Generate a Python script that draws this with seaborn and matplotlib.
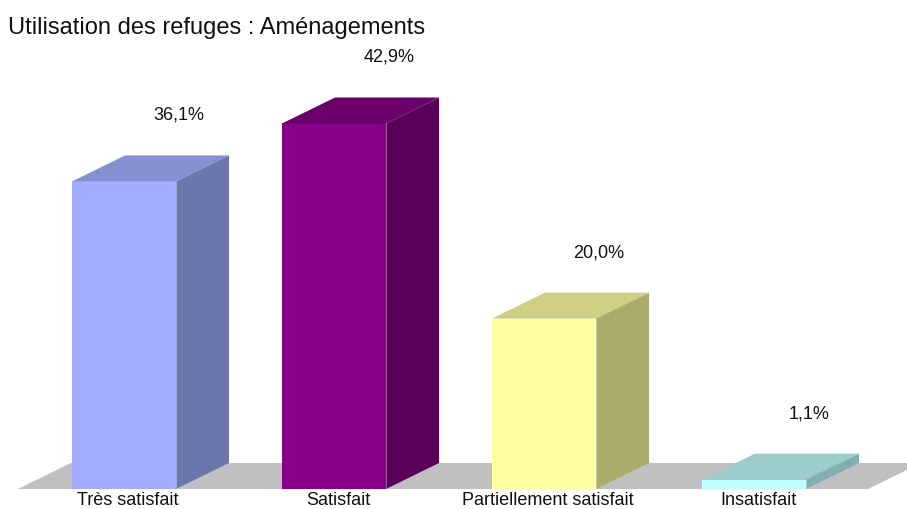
import matplotlib
matplotlib.use("Agg")
import matplotlib.pyplot as plt
from matplotlib.patches import Polygon
import seaborn as sns

# Survey results
categories = ["Très satisfait", "Satisfait", "Partiellement satisfait", "Insatisfait"]
values = [36.1, 42.9, 20.0, 1.1]
value_labels = ["36,1%", "42,9%", "20,0%", "1,1%"]
title = "Utilisation des refuges : Aménagements"

# Face colours for the pseudo-3D bars
front_colors = ["#A2ADFF", "#880088", "#FFFFA0", "#C0FFFF"]
top_colors = ["#8490D2", "#6B006B", "#CFCF84", "#9CCCCC"]
side_colors = ["#6B76AC", "#590059", "#ABAB6C", "#82B0B0"]
floor_color = "#C0C0C0"

sns.set_theme(style="white")
plt.rcParams["font.family"] = ["Liberation Sans", "DejaVu Sans"]

W, H, DPI = 907, 509, 100
fig = plt.figure(figsize=(W / DPI, H / DPI), dpi=DPI)
ax = fig.add_axes([0, 0, 1, 1])

# Pixel geometry of the drawing area
px_per_cat = 210.0
px_per_pct = 8.52
x0_px = 124.0          # centre of the first bar
base_px = 489.0        # floor front edge
bar_w = 104.0 / px_per_cat
DX = 53.0 / px_per_cat  # depth offset (horizontal), data units
DY = 26.0 / px_per_pct  # depth offset (vertical), data units

# Front faces
sns.barplot(x=categories, y=values, hue=categories, palette=front_colors,
            width=bar_w, saturation=1, legend=False, ax=ax, zorder=2,
            edgecolor="none", linewidth=0)
bars = list(ax.patches)

ax.set_xlim(-x0_px / px_per_cat, (W - x0_px) / px_per_cat)
ax.set_ylim(-(H - base_px) / px_per_pct, base_px / px_per_pct)

# Floor plane
fx0 = (18 - x0_px) / px_per_cat
fx1 = (868 - x0_px) / px_per_cat
ax.add_patch(Polygon([(fx0, 0), (fx1, 0), (fx1 + DX, DY), (fx0 + DX, DY)],
                     closed=True, facecolor=floor_color, edgecolor="none", zorder=0))

for patch, tc, sc, lab in zip(bars, top_colors, side_colors, value_labels):
    x = patch.get_x()
    w = patch.get_width()
    h = patch.get_height()
    # top face
    ax.add_patch(Polygon([(x, h), (x + w, h), (x + w + DX, h + DY), (x + DX, h + DY)],
                         closed=True, facecolor=tc, edgecolor="none", zorder=2))
    # side face
    ax.add_patch(Polygon([(x + w, 0), (x + w + DX, DY), (x + w + DX, h + DY), (x + w, h)],
                         closed=True, facecolor=sc, edgecolor="none", zorder=2))
    # thin highlight along the front/side edge
    ax.plot([x + w, x + w], [0, h], color="white", alpha=0.35, lw=0.8, zorder=3)
    # value label above the bar
    ax.annotate(lab, xy=(x + w / 2 + DX, h + DY), xytext=(1.5, 28.8),
                textcoords="offset points", ha="center", va="center",
                fontsize=13, color="#111111")

for i, cat in enumerate(categories):
    ax.annotate(cat, xy=(i, 0), xytext=(3, -8.5), textcoords="offset points",
                ha="center", va="center", fontsize=13, color="#111111")

ax.set_axis_off()
fig.text(8 / W, 1 - 34 / H, title, ha="left", va="baseline", fontsize=17, color="#111111")

fig.savefig("out.png", dpi=DPI)
